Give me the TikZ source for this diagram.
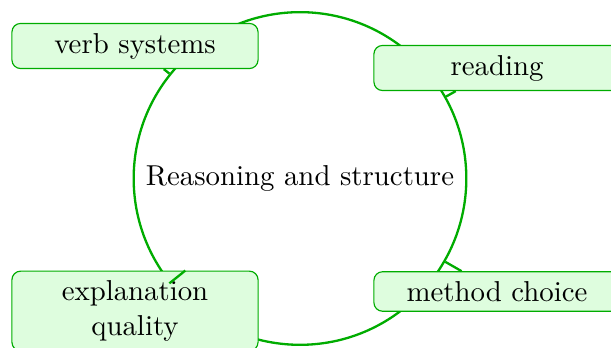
\documentclass[tikz,border=0pt]{standalone}
\usepackage{tikz}
\usetikzlibrary{positioning}
\tikzstyle{canvas} = [x = .3472pt, y = -.3472pt]
\definecolor{ringColor}{RGB}{0,172,0}
\definecolor{boxFill}{RGB}{222,253,222}
\tikzstyle{hubStyle} = [circle, draw=ringColor, thick, minimum size = 115.5pt, inner sep = 0pt]
\tikzstyle{topicStyle} = [draw=ringColor, fill=boxFill, rounded corners = 3pt, text width = 78.8pt, align = center]
\tikzstyle{linkLine} = [color=ringColor, thick]

\begin{document}
\begin{tikzpicture}[canvas]
      \useasboundingbox (0, 0) rectangle (611, 348);
      \node [hubStyle] (hub) at (300, 178.5) {Reasoning and structure};

      \node [topicStyle] (verbSystems) at (135, 46) {verb systems};
      \node [topicStyle] (reading) at (497, 68) {reading};
      \node [topicStyle] (methodChoice) at (497, 291.5) {method choice};
      \node [topicStyle] (explanationQuality) at (135, 311) {explanation quality};

      \foreach \topic in {verbSystems, reading, methodChoice, explanationQuality}
        \draw [linkLine] (hub) -- (\topic);
    \end{tikzpicture}
\end{document}
